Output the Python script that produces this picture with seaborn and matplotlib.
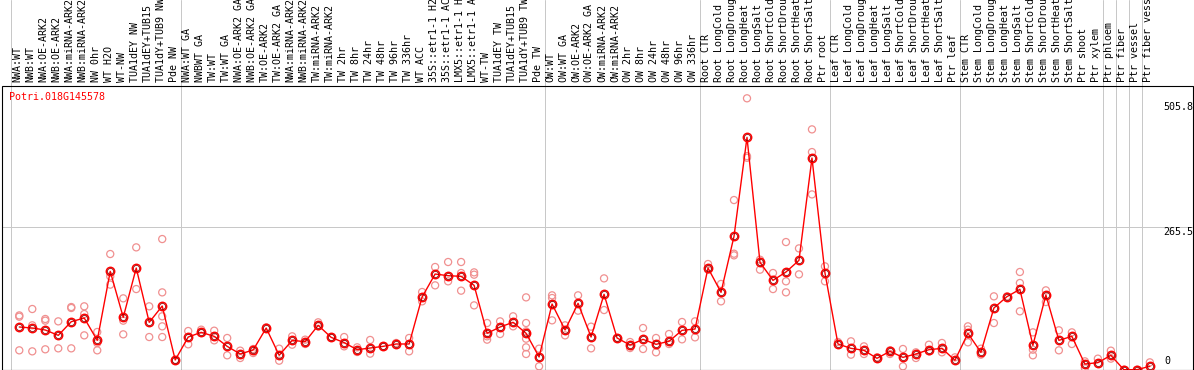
import numpy as np
import pandas as pd
import matplotlib
matplotlib.use("Agg")
import matplotlib.pyplot as plt
import seaborn as sns
from matplotlib.patches import Rectangle

# ---------------- data ----------------
title = "Potri.018G145578"

labels = [
    "NWA:WT", "NWB:WT", "NWA:OE-ARK2", "NWB:OE-ARK2", "NWA:miRNA-ARK2", "NWB:miRNA-ARK2",
    "NW 0hr", "WT H2O", "WT-NW", "TUA1dEY NW", "TUA1dEY+TUB15", "TUA1dY+TUB9 NW", "Pde NW",
    "NWA:WT GA", "NWBWT GA", "TW:WT", "TW:WT GA", "NWA:OE-ARK2 GA", "NWB:OE-ARK2 GA",
    "TW:OE-ARK2", "TW:OE-ARK2 GA", "NWA:miRNA-ARK2", "NWB:miRNA-ARK2", "TW:miRNA-ARK2",
    "TW:miRNA-ARK2", "TW 2hr", "TW 8hr", "TW 24hr", "TW 48hr", "TW 96hr", "TW 336hr",
    "WT ACC", "35S::etr1-1 H2O", "35S::etr1-1 ACC", "LMX5::etr1-1 H2O", "LMX5::etr1-1 ACC",
    "WT-TW", "TUA1dEY TW", "TUA1dEY+TUB15", "TUA1dY+TUB9 TW", "Pde TW",
    "OW:WT", "OW:WT GA", "OW:OE-ARK2", "OW:OE-ARK2 GA", "OW:miRNA-ARK2", "OW:miRNA-ARK2",
    "OW 2hr", "OW 8hr", "OW 24hr", "OW 48hr", "OW 96hr", "OW 336hr",
    "Root CTR", "Root LongCold", "Root LongDrought", "Root LongHeat", "Root LongSalt",
    "Root ShortCold", "Root ShortDrought", "Root ShortHeat", "Root ShortSalt", "Ptr root",
    "Leaf CTR", "Leaf LongCold", "Leaf LongDrought", "Leaf LongHeat", "Leaf LongSalt",
    "Leaf ShortCold", "Leaf ShortDrought", "Leaf ShortHeat", "Leaf ShortSalt", "Ptr leaf",
    "Stem CTR", "Stem LongCold", "Stem LongDrought", "Stem LongHeat", "Stem LongSalt",
    "Stem ShortCold", "Stem ShortDrought", "Stem ShortHeat", "Stem ShortSalt", "Ptr shoot",
    "Ptr xylem", "Ptr phloem", "Ptr fiber", "Ptr vessel", "Ptr fiber vessel",
]

group_sizes = [13, 28, 12, 10, 10, 11, 1, 1, 1, 1]

means = [
    79.6, 77.7, 74.0, 64.0, 89.5, 96.3, 54.7, 183.3, 97.6, 189.5, 88.3, 118.7, 18.1,
    60.9, 69.6, 62.2, 43.5, 29.3, 36.7, 77.7, 26.8, 54.7, 52.2, 82.7, 60.3, 50.4, 37.3,
    40.4, 43.5, 47.9, 47.9, 135.5, 178.3, 175.2, 174.0, 157.2, 67.8, 79.6, 88.3, 67.8, 23.7,
    122.4, 74.0, 123.7, 60.9, 140.5, 59.1, 46.0, 56.6, 47.3, 52.9, 73.4, 75.8,
    189.5, 144.2, 248.5, 433.0, 200.1, 166.5, 182.1, 203.8, 394.5, 180.2,
    47.9, 39.8, 36.1, 21.2, 34.2, 23.0, 29.3, 37.3, 39.8, 17.5,
    67.8, 32.4, 115.0, 136.1, 149.8, 45.4, 139.2, 54.7, 62.2, 10.6, 13.1,
    26.8, 0.0, 0.0, 6.3,
]

replicates = [
    [101.2, 98.8, 36.1], [113.1, 82.7, 34.2], [94.5, 91.4, 38.0], [90.1, 39.8],
    [116.8, 115.0, 39.8], [118.1, 103.8, 64.0], [70.3, 49.8, 36.1], [215.6, 174.0, 158.5],
    [133.0, 91.4, 65.9], [228.0, 150.3], [118.1, 60.9], [243.5, 144.1, 99.5, 80.8, 60.9],
    [18.1, 16.8],
    [72.1, 47.3], [74.6, 68.4], [72.7, 54.7], [59.1, 26.8], [35.5, 21.8], [38.6, 31.1],
    [79.0], [39.2, 16.8], [62.2, 46.6], [56.0, 47.9], [88.3, 80.8], [60.3], [60.9, 43.5],
    [41.7, 33.0], [55.4, 29.9], [43.5], [49.8], [59.1, 34.2], [144.8, 127.4],
    [191.4, 157.2], [200.7, 164.7], [200.7, 180.2, 147.3], [181.4, 177.1, 119.9],
    [87.0, 62.2, 56.0], [90.1, 66.5], [99.5, 80.8], [134.8, 87.0, 71.5, 57.8, 41.7, 29.3],
    [39.2, 6.3],
    [138.6, 133.6, 92.0], [82.7, 64.0], [138.6, 110.0], [80.2, 39.8], [170.2, 111.2],
    [59.1], [51.6, 40.4], [77.7, 38.6], [59.1, 32.4], [66.5, 47.9], [88.9, 56.6], [90.1, 60.3],
    [197.0, 186.4], [159.8, 127.4], [316.2, 216.2, 213.1], [505.8, 398.0, 395.0],
    [205.0, 186.4], [180.2, 150.3], [237.9, 164.7, 144.2], [226.1, 177.7],
    [447.9, 405.6, 326.7], [192.6, 164.7],
    [51.6], [52.9, 28.0], [43.5, 29.3], [23.0], [36.1, 29.3], [38.6, 6.3], [32.4, 21.8],
    [46.6, 34.2], [49.8, 32.4], [23.0],
    [80.8, 74.6, 51.0], [39.2, 28.0], [136.7, 87.0], [136.7], [182.1, 161.6, 108.8],
    [69.6, 37.3, 26.8], [147.9, 126.1], [73.4, 36.1], [69.6, 47.9], [15.6, 3.2], [20.6],
    [35.5, 20.6], [0.0], [0.0], [13.7],
]

y_tick_labels = ["505.8", "265.5", "0"]
grid_value = 265.5

# ---------------- figure ----------------
W, H = 1194, 370
sns.set_style("white")
plt.rcParams["font.family"] = ["DejaVu Sans Mono"]
FS = 7.2
GRAY = "#c8c8c8"
PX = 0.72  # 1 pixel in points at dpi 100

fig = plt.figure(figsize=(W / 100, H / 100), dpi=100)


def fx(px):
    return px / W


def fy(py):
    return 1 - py / H


ax_l, ax_r = 10.7, 1155.3
ax_t, ax_b = 86.0, 369.7
ax = fig.add_axes([fx(ax_l), fy(ax_b), (ax_r - ax_l) / W, (ax_b - ax_t) / H])
hdr = fig.add_axes([fx(ax_l), fy(ax_t), (ax_r - ax_l) / W, ax_t / H])

n = len(labels)
xs = np.arange(n)
mean_df = pd.DataFrame({"x": xs, "y": means})
rep_df = pd.DataFrame(
    [(i, v) for i, vals in enumerate(replicates) for v in vals], columns=["x", "y"]
)

sns.scatterplot(data=rep_df, x="x", y="y", ax=ax, marker="o", s=26, color="none",
                edgecolor="#f09090", linewidth=0.9, zorder=3, legend=False)
sns.lineplot(data=mean_df, x="x", y="y", ax=ax, color="red", linewidth=1.0, sort=False,
             marker="o", markersize=6.0, markerfacecolor="none", markeredgecolor="red",
             markeredgewidth=1.1, zorder=5, legend=False)
ax.plot(xs, means, linestyle="none", marker="o", markersize=4.4, markerfacecolor="none",
        markeredgecolor="#8a0000", markeredgewidth=0.55, zorder=6)

xlim = (-0.66, 87.42)
ylim = (0.0, (ax_b - ax_t) * 1.8637)
ax.set_xlim(*xlim)
ax.set_ylim(*ylim)
ax.set_axis_off()
hdr.set_xlim(*xlim)
hdr.set_ylim(ax_t, 0)
hdr.set_axis_off()

# separators
bounds = np.cumsum(group_sizes) - 0.58
for b in list(bounds) + [xlim[0]]:
    for a in (ax, hdr):
        a.axvline(b, color=GRAY, lw=PX, zorder=1)

# horizontal gridline spanning the whole frame
span = ax_r - ax_l
ax.axhline(grid_value, xmin=(1.5 - ax_l) / span, xmax=(1192.5 - ax_l) / span,
           color=GRAY, lw=PX, clip_on=False, zorder=1)

# labels in header
for i, lab in enumerate(labels):
    hdr.text(i - 0.12, 82.5, lab, rotation=90, ha="center", va="bottom",
             fontsize=FS, color="black", clip_on=False)

# frame
fig.add_artist(Rectangle((fx(1.5), fy(369.5)), 1191 / W, (369.5 - 86) / H,
                         fill=False, ec="black", lw=PX * 1.1, transform=fig.transFigure))

# title & y labels
fig.text(fx(9.5), fy(91.5), title, color="red", fontsize=FS, ha="left", va="top")
fig.text(fx(1163), fy(101.5), y_tick_labels[0], color="black", fontsize=FS, ha="left", va="top")
fig.text(fx(1163), fy(227.3), y_tick_labels[1], color="black", fontsize=FS, ha="left", va="top")
fig.text(fx(1164), fy(366.5), y_tick_labels[2], color="black", fontsize=FS, ha="left", va="bottom")

fig.savefig("out.png", dpi=100)
